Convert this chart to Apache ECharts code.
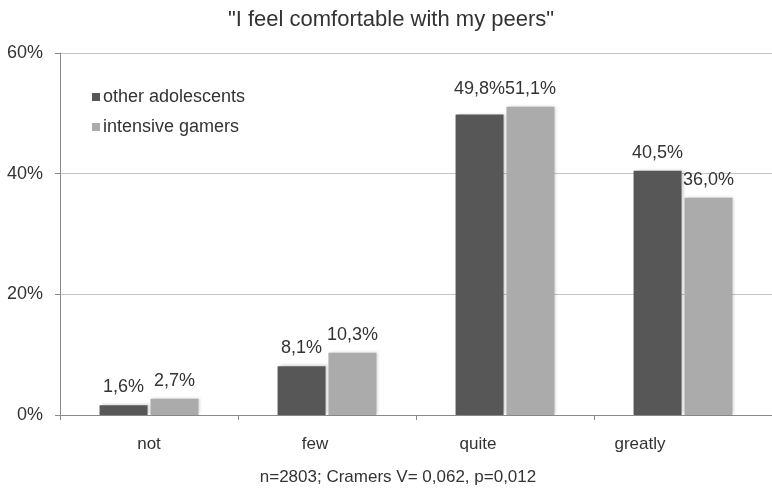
<!DOCTYPE html>
<html>
<head>
<meta charset="utf-8">
<script src="https://cdn.jsdelivr.net/npm/echarts@6/dist/echarts.min.js"></script>
<style>html,body{margin:0;padding:0;background:#fff}#c{width:772px;height:490px}</style>
</head>
<body>
<div id="c"></div>
<script>
const categories = ['not', 'few', 'quite', 'greatly'];
const otherAdolescents = [1.6, 8.1, 49.8, 40.5];
const intensiveGamers = [2.7, 10.3, 51.1, 36.0];
const yTicks = [0, 20, 40, 60];
const chartTitle = '"I feel comfortable with my peers"';
const footnote = 'n=2803; Cramers V= 0,062, p=0,012';

const FONT = '"Liberation Sans", Arial, sans-serif';
const TXT = '#333';
const fmt = v => v.toFixed(1).replace('.', ',') + '%';
const labelShift = [0, 24, 54, 86];
const rich = {};
labelShift.forEach((s, i) => { rich['c' + i] = { fontFamily: FONT, fontSize: 17, color: TXT, padding: [0, s, 0, 0] }; });

const chart = echarts.init(document.getElementById('c'), null, { renderer: 'canvas' });
const barShadow = { shadowColor: 'rgba(0,0,0,0.18)', shadowBlur: 3, shadowOffsetX: 2, shadowOffsetY: -1 };
chart.setOption({
  animation: false,
  backgroundColor: '#fff',
  textStyle: { fontFamily: FONT },
  graphic: [
    { type: 'text', style: { text: chartTitle, x: 391, y: 20, textAlign: 'center', textVerticalAlign: 'middle', fontFamily: FONT, fontSize: 22, fill: TXT } },
    { type: 'text', style: { text: footnote, x: 398, y: 477, textAlign: 'center', textVerticalAlign: 'middle', fontFamily: FONT, fontSize: 17, fill: TXT } }
  ],
  legend: {
    orient: 'vertical', left: 87, top: 82, itemWidth: 8, itemHeight: 8, itemGap: 10,
    icon: 'rect',
    textStyle: { fontFamily: FONT, fontSize: 18, color: TXT, lineHeight: 20, padding: [0, 0, 0, -2] },
    data: ['other adolescents', 'intensive gamers']
  },
  grid: { left: 60, top: 53, bottom: 75, width: 715 },
  xAxis: {
    type: 'category', data: categories,
    axisLine: { lineStyle: { color: '#8a8a8a', width: 1 } },
    axisTick: { show: true, length: 5, lineStyle: { color: '#8a8a8a' } },
    axisLabel: { margin: 21, formatter: (v, i) => '{c' + i + '|' + v + '}', rich: rich }
  },
  yAxis: {
    type: 'value', min: yTicks[0], max: yTicks[yTicks.length - 1], interval: 20,
    axisLine: { show: true, lineStyle: { color: '#8a8a8a' } },
    axisTick: { show: true, length: 5, lineStyle: { color: '#8a8a8a' } },
    splitLine: { lineStyle: { color: '#c4c4c4' } },
    axisLabel: { margin: 17, fontFamily: FONT, fontSize: 18, color: TXT, formatter: v => v + '%' }
  },
  series: [
    {
      name: 'other adolescents', type: 'bar', barWidth: 48, barGap: '6%',
      itemStyle: Object.assign({ color: '#575757' }, barShadow),
      label: { show: true, position: 'top', distance: 9, fontFamily: FONT, fontSize: 18, color: TXT, formatter: p => fmt(p.value) },
      data: otherAdolescents.map((v, i) => i === 2 ? { value: v, label: { distance: 17 } } : v)
    },
    {
      name: 'intensive gamers', type: 'bar', barWidth: 48, barGap: '6%',
      itemStyle: Object.assign({ color: '#ababab' }, barShadow),
      label: { show: true, position: 'top', distance: 9, fontFamily: FONT, fontSize: 18, color: TXT, formatter: p => fmt(p.value) },
      data: intensiveGamers
    }
  ]
});
</script>
</body>
</html>
